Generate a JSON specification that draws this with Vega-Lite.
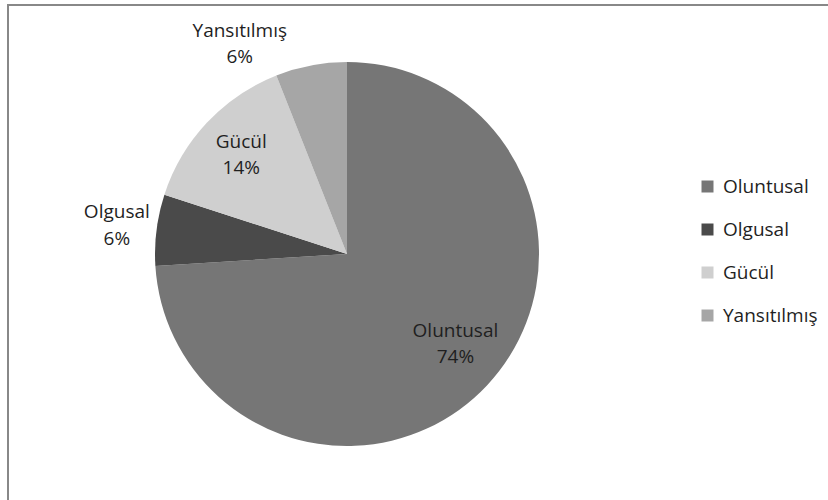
{
  "$schema": "https://vega.github.io/schema/vega-lite/v6.json",
  "width": 820,
  "height": 496,
  "padding": {"left": 8, "top": 4, "right": 0, "bottom": 0},
  "background": "white",
  "view": {"stroke": "#888888", "strokeWidth": 2, "strokeDash": [820, 1316, 496]},
  "config": {
    "font": "Open Sans"
  },
  "data": {
    "values": [
      {"kategori": "Oluntusal", "deger": 74, "sira": 1, "etiket": "Oluntusal\n74%"},
      {"kategori": "Olgusal", "deger": 6, "sira": 2, "etiket": "Olgusal\n6%"},
      {"kategori": "Gücül", "deger": 14, "sira": 3, "etiket": "Gücül\n14%"},
      {"kategori": "Yansıtılmış", "deger": 6, "sira": 4, "etiket": "Yansıtılmış\n6%"}
    ]
  },
  "encoding": {
    "theta": {"field": "deger", "type": "quantitative", "stack": true},
    "order": {"field": "sira", "type": "quantitative"}
  },
  "layer": [
    {
      "mark": {"type": "arc", "radius": 192, "xOffset": -71, "yOffset": 1},
      "encoding": {
        "color": {
          "field": "kategori",
          "type": "nominal",
          "scale": {
            "domain": ["Oluntusal", "Olgusal", "Gücül", "Yansıtılmış"],
            "range": ["#767676", "#4a4a4a", "#cfcfcf", "#a6a6a6"]
          },
          "legend": {
            "title": null,
            "orient": "none",
            "legendX": 690,
            "legendY": 172,
            "padding": 0,
            "symbolType": "square",
            "symbolSize": 144,
            "symbolStrokeWidth": 0,
            "labelFont": "Open Sans",
            "labelFontSize": 19,
            "labelColor": "#1f1f1f",
            "labelOffset": 6,
            "rowPadding": 23
          }
        }
      }
    },
    {
      "mark": {"type": "text", "radius": 135, "xOffset": -71, "yOffset": 1, "dx": 10, "dy": -15, "fontSize": 19, "lineBreak": "\n", "lineHeight": 26, "align": "center", "baseline": "middle"},
      "encoding": {
        "color": {"value": "#1f1f1f"},
        "text": {"condition": {"test": "datum.kategori === 'Oluntusal'", "field": "etiket", "type": "nominal"}, "value": ""}
      }
    },
    {
      "mark": {"type": "text", "radius": 145, "xOffset": -71, "yOffset": 1, "dy": -13, "fontSize": 19, "lineBreak": "\n", "lineHeight": 26, "align": "center", "baseline": "middle"},
      "encoding": {
        "color": {"value": "#1f1f1f"},
        "text": {"condition": {"test": "datum.kategori === 'Gücül'", "field": "etiket", "type": "nominal"}, "value": ""}
      }
    },
    {
      "mark": {"type": "text", "radius": 232, "xOffset": -71, "yOffset": 1, "dy": -13, "fontSize": 19, "lineBreak": "\n", "lineHeight": 27, "align": "center", "baseline": "middle"},
      "encoding": {
        "color": {"value": "#1f1f1f"},
        "text": {"condition": {"test": "datum.kategori === 'Olgusal'", "field": "etiket", "type": "nominal"}, "value": ""}
      }
    },
    {
      "mark": {"type": "text", "radius": 236, "xOffset": -71, "yOffset": 1, "dx": -63, "dy": 9, "fontSize": 19, "lineBreak": "\n", "lineHeight": 26, "align": "center", "baseline": "middle"},
      "encoding": {
        "color": {"value": "#1f1f1f"},
        "text": {"condition": {"test": "datum.kategori === 'Yansıtılmış'", "field": "etiket", "type": "nominal"}, "value": ""}
      }
    }
  ]
}
